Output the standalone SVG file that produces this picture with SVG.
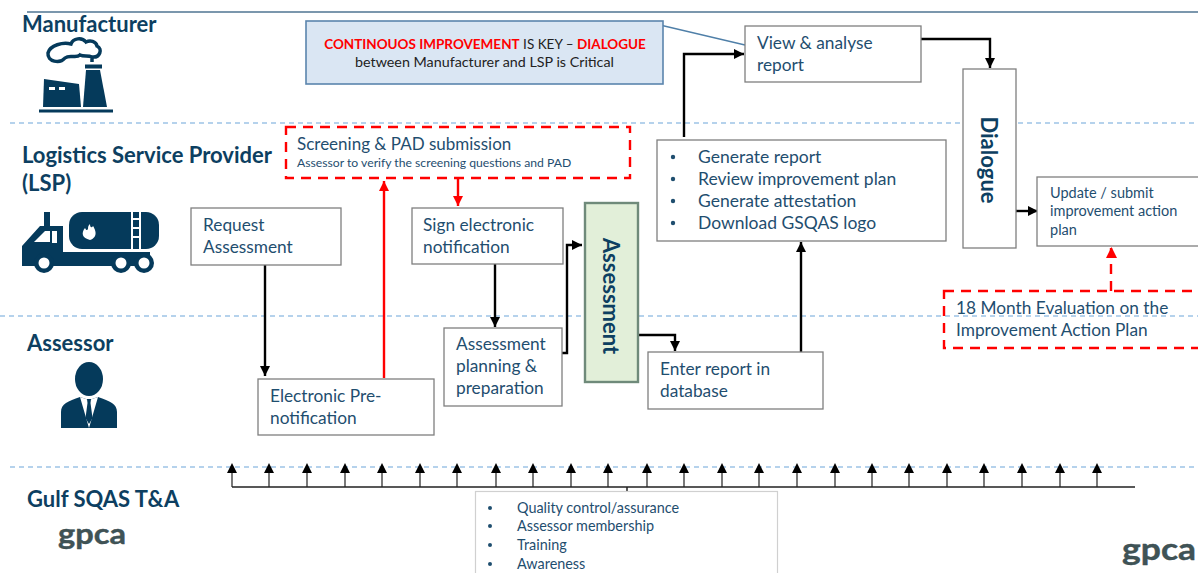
<svg xmlns="http://www.w3.org/2000/svg" width="1198" height="573" viewBox="0 0 1198 573">
<style>
text{font-family:Lato,"Open Sans",sans-serif;fill:#1f4e6f}
.h{font-size:22px;font-weight:700;fill:#0d3f61}
.t{font-size:17.300px}
.box{fill:#fff;stroke:#7f7f7f;stroke-width:1.3}
.sep{stroke:#9dc3e6;stroke-width:1.3;stroke-dasharray:5 4;fill:none}
.k{stroke:#000;stroke-width:2.4;fill:none}
.r{stroke:#f00;stroke-width:2.4;fill:none}
.d{stroke:#f00;stroke-width:2.4;fill:none;stroke-dasharray:10 7}
.tick{stroke:#222;stroke-width:1.2;fill:none}
.ic{fill:#053a5b}
.logo{font-weight:700;stroke-width:.4;stroke:#3b4d50;fill:#3f5356}
.dot{fill:#1f4e6f}
</style>
<defs>
<marker id="ak" markerUnits="userSpaceOnUse" markerWidth="12" markerHeight="10" refX="10" refY="5" orient="auto"><path d="M0 0L10 5L0 10Z" fill="#000"/></marker>
<marker id="ar" markerUnits="userSpaceOnUse" markerWidth="12" markerHeight="10" refX="10" refY="5" orient="auto"><path d="M0 0L10 5L0 10Z" fill="#f00"/></marker>
</defs>

<g id="lanes">
<line x1="27" y1="12" x2="1198" y2="12" stroke="#4f7592" stroke-width="1.4"/>
<line class="sep" x1="10" y1="123" x2="1198" y2="123"/>
<line class="sep" x1="0" y1="316" x2="1198" y2="316"/>
<line class="sep" x1="10" y1="467" x2="1198" y2="467"/>
</g>

<g id="lane-manufacturer">
<text class="h" x="22" y="32">Manufacturer</text>
<g class="ic">
<path d="M44 79L79 84L81 107H43Z"/>
<path d="M86 70H100L107 107H83Z"/>
<rect x="85" y="64.500" width="17" height="4"/>
<rect x="39" y="109.500" width="74" height="3"/>
</g>
<rect x="49" y="87" width="6" height="3" fill="#fff"/><rect x="59" y="87" width="6" height="3" fill="#fff"/>
<path d="M92 62V57C100 58 103 49 97 46C96 41 90 40 86 42C82 37 73 38 71 44C63 42 50 45 48 53C47 62 60 64 65 58C70 54 76 59 80 55C84 57 88 55 92 57" fill="#fff" stroke="#053a5b" stroke-width="3.500"/>
</g>

<g id="lane-lsp">
<text class="h" x="22" y="163">Logistics Service Provider</text>
<text class="h" x="22" y="191">(LSP)</text>
<g class="ic">
<path d="M22 266V246L40 226H44V212H50V226H63V252H150V266Z"/>
<rect x="69" y="212" width="90" height="37" rx="13"/>
<circle cx="44" cy="263" r="10"/><circle cx="121" cy="263" r="10"/><circle cx="144" cy="263" r="10"/>
</g>
<path d="M34 242L45 231H50V242Z" fill="#fff"/><rect x="52" y="231" width="5" height="12" fill="#fff"/>
<circle cx="44" cy="263" r="5.500" fill="#fff"/><circle cx="121" cy="263" r="5.500" fill="#fff"/><circle cx="144" cy="263" r="5.500" fill="#fff"/>
<path d="M132 212V249M140 212V249M132 219H140M132 228H140M132 237H140" stroke="#fff" stroke-width="2" fill="none"/>
<path d="M90 240C82 238 81 233 85 228C86 230 87 231 88 229C88 227 88 226 90 224C90 228 92 228 93 226C95 229 99 237 90 240Z" fill="#fff"/>
</g>

<g id="lane-assessor">
<text class="h" x="27" y="351">Assessor</text>
<g class="ic">
<ellipse cx="89" cy="379" rx="14" ry="17"/>
<path d="M61 428V412C61 404 68 401 80 397L89 400L98 397C110 401 117 404 117 412V428Z"/>
</g>
<path d="M80 397L89 428L98 397L89 400Z" fill="#fff"/>
<path d="M87 399H91L90.500 403L92.500 418L89 424L85.500 418L87.500 403Z" fill="#053a5b"/>
</g>

<g id="lane-gulf">
<text class="h" x="27" y="507">Gulf SQAS T&amp;A</text>
<text class="logo" x="58" y="544" font-size="29" textLength="68" lengthAdjust="spacingAndGlyphs">gpca</text>
<text class="logo" x="1122" y="560" font-size="31" textLength="74" lengthAdjust="spacingAndGlyphs">gpca</text>
</g>

<g id="connectors">
<path class="k" d="M265 265V376" marker-end="url(#ak)"/>
<path class="r" d="M384 378V181" marker-end="url(#ar)"/>
<path class="r" d="M458 177V206" marker-end="url(#ar)"/>
<path class="k" d="M495 264V327" marker-end="url(#ak)"/>
<path class="k" d="M562 353H567V245H582" marker-end="url(#ak)"/>
<path class="k" d="M638 335H675V351" marker-end="url(#ak)"/>
<path class="k" d="M801 352V242" marker-end="url(#ak)"/>
<path class="k" d="M684 137V54H744" marker-end="url(#ak)"/>
<path class="k" d="M921 39H990V68" marker-end="url(#ak)"/>
<path class="k" d="M1016 211H1038" marker-end="url(#ak)"/>
<path class="d" d="M1111 291V248"/>
<path d="M1106 258L1111.500 247L1117 258Z" fill="#f00"/>
<path d="M660 25L745 45" stroke="#4f7fa8" stroke-width="1.300" fill="none"/>
<path class="tick" style="stroke-width:1.500" d="M232 487H1135M627 487V491"/>
<g class="tick" id="ticks">
<path d="M232 487V472M269 487V472M307 487V472M345 487V472M382 487V472M420 487V472M457 487V472M496 487V472M533 487V472M571 487V472M608 487V472M647 487V472M684 487V472M722 487V472M759 487V472M797 487V472M835 487V472M872 487V472M909 487V472M947 487V472M984 487V472M1022 487V472M1060 487V472M1097 487V472"/>
</g>
<path fill="#000" d="M232 463l5 10h-10ZM269 463l5 10h-10ZM307 463l5 10h-10ZM345 463l5 10h-10ZM382 463l5 10h-10ZM420 463l5 10h-10ZM457 463l5 10h-10ZM496 463l5 10h-10ZM533 463l5 10h-10ZM571 463l5 10h-10ZM608 463l5 10h-10ZM647 463l5 10h-10ZM684 463l5 10h-10ZM722 463l5 10h-10ZM759 463l5 10h-10ZM797 463l5 10h-10ZM835 463l5 10h-10ZM872 463l5 10h-10ZM909 463l5 10h-10ZM947 463l5 10h-10ZM984 463l5 10h-10ZM1022 463l5 10h-10ZM1060 463l5 10h-10ZM1097 463l5 10h-10Z"/>
</g>

<g id="node-callout">
<rect x="306" y="21" width="357" height="63" fill="#dae6f3" stroke="#5b85ad" stroke-width="1.600"/>
<text x="485" y="49" text-anchor="middle" font-size="13.500" style="fill:#222"><tspan style="fill:#f00" font-weight="700">CONTINOUOS IMPROVEMENT</tspan> IS KEY – <tspan style="fill:#f00" font-weight="700">DIALOGUE</tspan></text>
<text x="484.500" y="67" text-anchor="middle" font-size="14.300" style="fill:#222">between Manufacturer and LSP is Critical</text>
</g>

<g id="node-screening">
<rect x="286" y="127" width="344" height="51" class="d"/>
<text x="297" y="150" font-size="17">Screening &amp; PAD submission</text>
<text x="297" y="167" font-size="12.200">Assessor to verify the screening questions and PAD</text>
</g>

<g id="node-request">
<rect class="box" x="191" y="208" width="150" height="57"/>
<text class="t" x="203" y="231">Request</text>
<text class="t" x="203" y="253">Assessment</text>
</g>

<g id="node-prenotification">
<rect class="box" x="258" y="379" width="176" height="56"/>
<text class="t" x="270" y="402">Electronic Pre-</text>
<text class="t" x="270" y="424">notification</text>
</g>

<g id="node-sign">
<rect class="box" x="412" y="208" width="151" height="56"/>
<text class="t" x="423" y="231">Sign electronic</text>
<text class="t" x="423" y="253">notification</text>
</g>

<g id="node-planning">
<rect class="box" x="444" y="328" width="118" height="78"/>
<text class="t" x="456" y="350">Assessment</text>
<text class="t" x="456" y="372">planning &amp;</text>
<text class="t" x="456" y="394">preparation</text>
</g>

<g id="node-assessment">
<rect x="585" y="203" width="53" height="179" fill="#e2efd9" stroke="#6f8a7a" stroke-width="2.400"/>
<text transform="translate(603 296) rotate(90)" text-anchor="middle" font-size="22" font-weight="700" style="fill:#0d3f61">Assessment</text>
</g>

<g id="node-enter">
<rect class="box" x="648" y="352" width="175" height="57"/>
<text class="t" x="660" y="375">Enter report in</text>
<text class="t" x="660" y="397">database</text>
</g>

<g id="node-generate">
<rect class="box" x="657" y="140" width="289" height="101"/>
<circle class="dot" cx="673" cy="157" r="2.200"/><circle class="dot" cx="673" cy="179" r="2.200"/><circle class="dot" cx="673" cy="201" r="2.200"/><circle class="dot" cx="673" cy="223" r="2.200"/>
<text class="t" x="698" y="163" style="font-size:17.500px">Generate report</text>
<text class="t" x="698" y="185" style="font-size:17.500px">Review improvement plan</text>
<text class="t" x="698" y="207" style="font-size:17.500px">Generate attestation</text>
<text class="t" x="698" y="229" style="font-size:17.500px">Download GSQAS logo</text>
</g>

<g id="node-view">
<rect class="box" x="745" y="26" width="176" height="56"/>
<text class="t" x="757" y="49">View &amp; analyse</text>
<text class="t" x="757" y="71">report</text>
</g>

<g id="node-dialogue">
<rect class="box" x="963" y="69" width="53" height="179"/>
<text transform="translate(981 160) rotate(90)" text-anchor="middle" font-size="22" font-weight="700" style="fill:#0d3f61">Dialogue</text>
</g>

<g id="node-update">
<rect class="box" x="1037" y="177" width="170" height="69"/>
<text x="1050" y="198" font-size="14.500">Update / submit</text>
<text x="1050" y="216" font-size="14.500">improvement action</text>
<text x="1050" y="235" font-size="14.500">plan</text>
</g>

<g id="node-evaluation">
<rect x="944" y="291" width="270" height="57" fill="#fff" class="d"/>
<text class="t" x="956" y="314">18 Month Evaluation on the</text>
<text class="t" x="956" y="336">Improvement Action Plan</text>
</g>

<g id="node-gulf-list">
<rect x="475.500" y="491.500" width="302" height="90" fill="#fff" stroke="#d0d0d0" stroke-width="1.200"/>
<circle class="dot" cx="490" cy="508" r="2"/><circle class="dot" cx="490" cy="526" r="2"/><circle class="dot" cx="490" cy="545" r="2"/><circle class="dot" cx="490" cy="564" r="2"/>
<text x="517" y="513" font-size="14.400">Quality control/assurance</text>
<text x="517" y="531" font-size="14.400">Assessor membership</text>
<text x="517" y="550" font-size="14.400">Training</text>
<text x="517" y="569" font-size="14.400">Awareness</text>
</g>
</svg>
